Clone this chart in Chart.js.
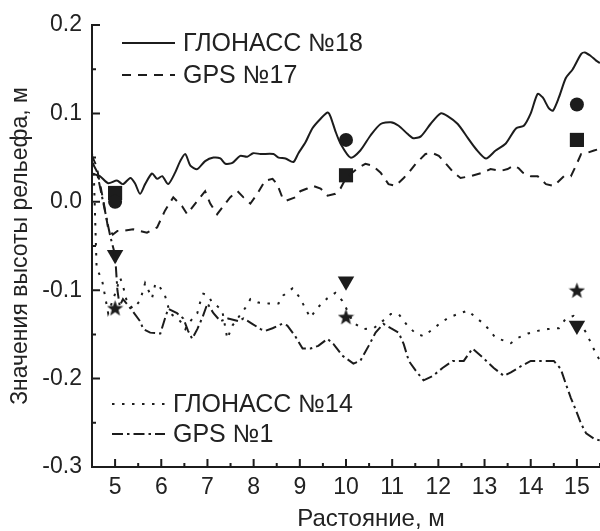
<!DOCTYPE html>
<html>
<head>
<meta charset="utf-8">
<script src="https://cdn.jsdelivr.net/npm/chart.js@4"></script>
<style>
  html, body { margin: 0; padding: 0; background: #fff; }
  #wrap { width: 600px; height: 531px; position: relative; }
</style>
</head>
<body>
<div id="wrap"><canvas id="c"></canvas></div>
<script>
// ---- data ----
const glonass18X = [4.5,4.67,4.85,5.04,5.17,5.33,5.43,5.54,5.65,5.8,5.91,6.02,6.15,6.3,6.41,6.52,6.63,6.78,6.95,7.13,7.28,7.39,7.54,7.71,7.86,7.99,8.15,8.43,8.54,8.69,8.86,8.97,9.12,9.27,9.45,9.6,9.66,9.77,9.88,10.1,10.31,10.53,10.75,10.97,11.14,11.33,11.46,11.62,11.83,12.05,12.2,12.42,12.64,12.81,13.03,13.24,13.46,13.68,13.85,14.0,14.15,14.26,14.39,14.48,14.61,14.76,14.91,15.09,15.17,15.3,15.41,15.5];
const glonass18Y = [0.032,0.029,0.021,0.024,0.020,0.027,0.021,0.009,0.020,0.032,0.026,0.029,0.020,0.033,0.046,0.054,0.041,0.037,0.046,0.050,0.049,0.043,0.044,0.052,0.051,0.055,0.054,0.054,0.050,0.049,0.045,0.055,0.067,0.083,0.094,0.101,0.097,0.080,0.066,0.050,0.058,0.075,0.088,0.090,0.086,0.077,0.072,0.074,0.088,0.100,0.097,0.088,0.072,0.060,0.049,0.058,0.066,0.083,0.086,0.100,0.122,0.118,0.106,0.103,0.118,0.140,0.150,0.167,0.169,0.165,0.160,0.157];

const gps17X = [4.5,4.6,4.75,4.85,4.95,5.05,5.17,5.39,5.69,5.91,6.08,6.26,6.45,6.56,6.78,6.95,7.06,7.21,7.34,7.49,7.65,7.78,7.93,8.08,8.25,8.41,8.51,8.62,8.69,8.9,9.01,9.16,9.29,9.45,9.6,9.77,9.88,10.0,10.25,10.42,10.57,10.75,10.92,11.07,11.25,11.36,11.51,11.72,11.88,12.01,12.2,12.33,12.48,12.7,12.96,13.13,13.35,13.5,13.63,13.74,13.83,14.0,14.15,14.33,14.5,14.72,14.87,14.98,15.09,15.2,15.37,15.5];
const gps17Y = [0.052,0.04,0.0,-0.03,-0.037,-0.033,-0.033,-0.031,-0.035,-0.029,-0.010,0.005,-0.005,-0.014,0.001,0.012,-0.002,-0.014,-0.005,0.005,0.012,0.005,-0.002,0.009,0.024,0.026,0.020,0.005,0.001,0.005,0.012,0.015,0.018,0.015,0.007,0.009,0.015,0.027,0.038,0.043,0.041,0.033,0.020,0.018,0.027,0.033,0.043,0.054,0.055,0.052,0.041,0.033,0.027,0.029,0.033,0.037,0.035,0.037,0.041,0.038,0.033,0.029,0.029,0.020,0.018,0.029,0.029,0.041,0.054,0.055,0.058,0.060];

const glonass14X = [4.5,4.54,4.6,4.72,4.85,5.0,5.11,5.17,5.26,5.39,5.54,5.65,5.8,5.87,5.93,6.08,6.19,6.41,6.52,6.63,6.78,6.84,6.91,7.02,7.1,7.21,7.32,7.43,7.54,7.82,7.93,8.1,8.32,8.54,8.64,8.84,9.01,9.12,9.23,9.38,9.6,9.77,9.92,10.03,10.16,10.38,10.6,10.79,10.97,11.14,11.33,11.51,11.68,11.88,12.05,12.22,12.42,12.64,12.81,12.96,13.07,13.24,13.42,13.57,13.72,13.94,14.15,14.37,14.61,14.76,14.93,15.04,15.2,15.35,15.46,15.5];
const glonass14Y = [0.055,0.03,-0.075,-0.089,-0.126,-0.104,-0.086,-0.095,-0.114,-0.121,-0.112,-0.092,-0.109,-0.093,-0.093,-0.106,-0.126,-0.135,-0.144,-0.135,-0.126,-0.114,-0.104,-0.106,-0.114,-0.118,-0.123,-0.155,-0.140,-0.120,-0.110,-0.114,-0.115,-0.115,-0.106,-0.098,-0.109,-0.121,-0.131,-0.120,-0.109,-0.103,-0.112,-0.123,-0.137,-0.144,-0.143,-0.135,-0.127,-0.127,-0.140,-0.149,-0.152,-0.144,-0.137,-0.131,-0.127,-0.123,-0.131,-0.137,-0.143,-0.154,-0.157,-0.160,-0.154,-0.149,-0.146,-0.144,-0.143,-0.132,-0.129,-0.135,-0.148,-0.165,-0.176,-0.18];

const gps1X = [4.5,4.6,4.7,4.8,4.9,5.0,5.05,5.1,5.17,5.37,5.54,5.61,5.76,5.98,6.08,6.15,6.34,6.48,6.58,6.67,6.78,6.89,7.0,7.13,7.28,7.45,7.67,7.78,7.97,8.15,8.25,8.41,8.62,8.73,8.9,9.06,9.23,9.4,9.6,9.73,9.92,10.16,10.31,10.49,10.64,10.81,10.97,11.14,11.25,11.36,11.51,11.68,11.88,12.09,12.31,12.55,12.74,12.96,13.2,13.42,13.57,13.79,14.0,14.22,14.5,14.65,14.76,14.87,14.98,15.09,15.2,15.37,15.5];
const gps1Y = [0.045,0.035,0.01,-0.015,-0.04,-0.06,-0.1,-0.118,-0.110,-0.123,-0.135,-0.144,-0.148,-0.149,-0.132,-0.121,-0.126,-0.132,-0.146,-0.155,-0.144,-0.131,-0.115,-0.126,-0.135,-0.132,-0.135,-0.132,-0.138,-0.144,-0.146,-0.143,-0.138,-0.140,-0.152,-0.166,-0.166,-0.163,-0.155,-0.161,-0.174,-0.183,-0.180,-0.163,-0.148,-0.138,-0.143,-0.148,-0.161,-0.180,-0.191,-0.202,-0.197,-0.188,-0.180,-0.180,-0.166,-0.176,-0.188,-0.197,-0.193,-0.186,-0.180,-0.180,-0.180,-0.189,-0.206,-0.222,-0.236,-0.251,-0.262,-0.268,-0.270];

const markerX   = [5, 10, 15];
const circleY   = [0.0, 0.07, 0.11];
const squareY   = [0.01, 0.03, 0.07];
const triangleY = [-0.06, -0.09, -0.14];
const starY     = [-0.12, -0.13, -0.10];

const xTicks = [5,6,7,8,9,10,11,12,13,14,15];
const yTicks = [-0.3,-0.2,-0.1,0.0,0.1,0.2];

const seriesNames = ['ГЛОНАСС №18', 'GPS №17', 'ГЛОНАСС №14', 'GPS №1'];
const xTitle = 'Растояние, м';
const yTitle = 'Значения высоты рельефа, м';

// ---- styling ----
const INK = '#1c1c1c';
const TXT = '#222222';
const FONT = '"Liberation Sans", Arial, sans-serif';
const dashes = [[], [9, 7], [2.5, 7.5], [11, 4, 2.5, 4]];

const pts = (xs, ys) => xs.map((x, i) => ({x: x, y: ys[i]}));

// filled five-point star as a point image
function makeStar(size) {
  const c = document.createElement('canvas');
  c.width = size; c.height = size;
  const g = c.getContext('2d');
  const cx = size / 2, cy = size / 2 + 0.8, R = size / 2, r = R * 0.42;
  g.beginPath();
  for (let i = 0; i < 10; i++) {
    const a = -Math.PI / 2 + i * Math.PI / 5;
    const rr = i % 2 === 0 ? R : r;
    g.lineTo(cx + rr * Math.cos(a), cy + rr * Math.sin(a));
  }
  g.closePath();
  g.fillStyle = INK;
  g.fill();
  return c;
}
const starImg = makeStar(17);

function lineDs(label, xs, ys, k, tension) {
  return {
    label: label,
    data: pts(xs, ys),
    borderColor: INK,
    borderWidth: 2,
    borderDash: dashes[k],
    pointRadius: 0,
    tension: tension,
    fill: false
  };
}
function markerDs(label, ys, style, radius, rot) {
  return {
    label: label,
    data: pts(markerX, ys),
    showLine: false,
    pointStyle: style,
    pointRadius: radius,
    pointRotation: rot || 0,
    pointBackgroundColor: INK,
    pointBorderColor: INK,
    pointBorderWidth: 0
  };
}

// inward ticks
const tickPlugin = {
  id: 'inTicks',
  afterDraw(chart) {
    const {ctx, chartArea: a, scales: {x, y}} = chart;
    ctx.save();
    ctx.strokeStyle = INK;
    ctx.lineWidth = 2;
    ctx.beginPath();
    for (let v = 5; v <= 15; v++) {
      const px = x.getPixelForValue(v);
      ctx.moveTo(px, a.bottom); ctx.lineTo(px, a.bottom - 8);
    }
    for (let v = 5.5; v <= 15.5; v += 1) {
      const px = x.getPixelForValue(v);
      ctx.moveTo(px, a.bottom); ctx.lineTo(px, a.bottom - 4);
    }
    for (let k = -6; k <= 4; k++) {
      const v = k * 0.05;
      const py = y.getPixelForValue(v);
      const len = (k % 2 === 0) ? 8 : 4;
      ctx.moveTo(a.left, py); ctx.lineTo(a.left + len, py);
    }
    ctx.stroke();
    ctx.restore();
  }
};

// in-plot legends (two groups) and the x-axis title (the original plot
// continues past the crop, so its title sits right of the visible centre)
const legendPlugin = {
  id: 'inLegend',
  afterDraw(chart) {
    const {ctx, chartArea: a} = chart;
    const rows = [
      {k: 0, x0: a.left + 30, y: a.top + 18},
      {k: 1, x0: a.left + 30, y: a.top + 50},
      {k: 2, x0: a.left + 20, y: a.bottom - 63},
      {k: 3, x0: a.left + 20, y: a.bottom - 33}
    ];
    ctx.save();
    rows.forEach(r => {
      ctx.beginPath();
      ctx.setLineDash(dashes[r.k]);
      ctx.strokeStyle = INK;
      ctx.lineWidth = 2;
      ctx.moveTo(r.x0, r.y);
      ctx.lineTo(r.x0 + 53, r.y);
      ctx.stroke();
      ctx.setLineDash([]);
      ctx.fillStyle = TXT;
      ctx.font = '25px ' + FONT;
      ctx.textBaseline = 'middle';
      ctx.textAlign = 'left';
      ctx.fillText(seriesNames[r.k], r.x0 + 61, r.y + 1);
    });
    ctx.font = '24px ' + FONT;
    ctx.textAlign = 'center';
    ctx.textBaseline = 'middle';
    ctx.fillText(xTitle, (a.left + a.right) / 2 + 25, a.bottom + 52);
    ctx.restore();
  }
};

new Chart(document.getElementById('c'), {
  type: 'line',
  data: {
    datasets: [
      lineDs(seriesNames[0], glonass18X, glonass18Y, 0, 0.25),
      lineDs(seriesNames[1], gps17X, gps17Y, 1, 0),
      lineDs(seriesNames[2], glonass14X, glonass14Y, 2, 0),
      lineDs(seriesNames[3], gps1X, gps1Y, 3, 0),
      markerDs('circle', circleY, 'circle', 7),
      markerDs('square', squareY, 'rect', 10),
      markerDs('triangle', triangleY, 'triangle', 9.5, 180),
      markerDs('star', starY, starImg, 8)
    ]
  },
  options: {
    responsive: true,
    maintainAspectRatio: false,
    animation: false,
    layout: { autoPadding: false, padding: { top: 25, right: 0, left: 0, bottom: 0 } },
    plugins: { legend: { display: false }, tooltip: { enabled: false } },
    scales: {
      x: {
        type: 'linear',
        min: 4.5, max: 15.5,
        afterBuildTicks: s => { s.ticks = xTicks.map(v => ({value: v})); },
        afterFit: s => { s.height = 64; s.paddingLeft = 0; s.paddingRight = 0; },
        grid: { display: false, drawTicks: false },
        border: { display: true, color: INK, width: 2 },
        ticks: {
          color: TXT, padding: 7,
          font: { family: FONT, size: 23 },
          maxRotation: 0, autoSkip: false,
          callback: v => String(v)
        },
        title: { display: false, text: xTitle }
      },
      y: {
        type: 'linear',
        min: -0.3, max: 0.2,
        afterBuildTicks: s => { s.ticks = yTicks.map(v => ({value: v})); },
        afterFit: s => { s.width = 92; s.paddingTop = 0; s.paddingBottom = 0; },
        grid: { display: false, drawTicks: false },
        border: { display: true, color: INK, width: 2 },
        ticks: {
          color: TXT, padding: 10,
          font: { family: FONT, size: 23 },
          autoSkip: false,
          callback: v => Number(v).toFixed(1)
        },
        title: {
          display: true, text: yTitle, color: TXT,
          font: { family: FONT, size: 23, lineHeight: 1 },
          padding: { top: 9, bottom: 0 }
        }
      }
    }
  },
  plugins: [tickPlugin, legendPlugin]
});
</script>
</body>
</html>
